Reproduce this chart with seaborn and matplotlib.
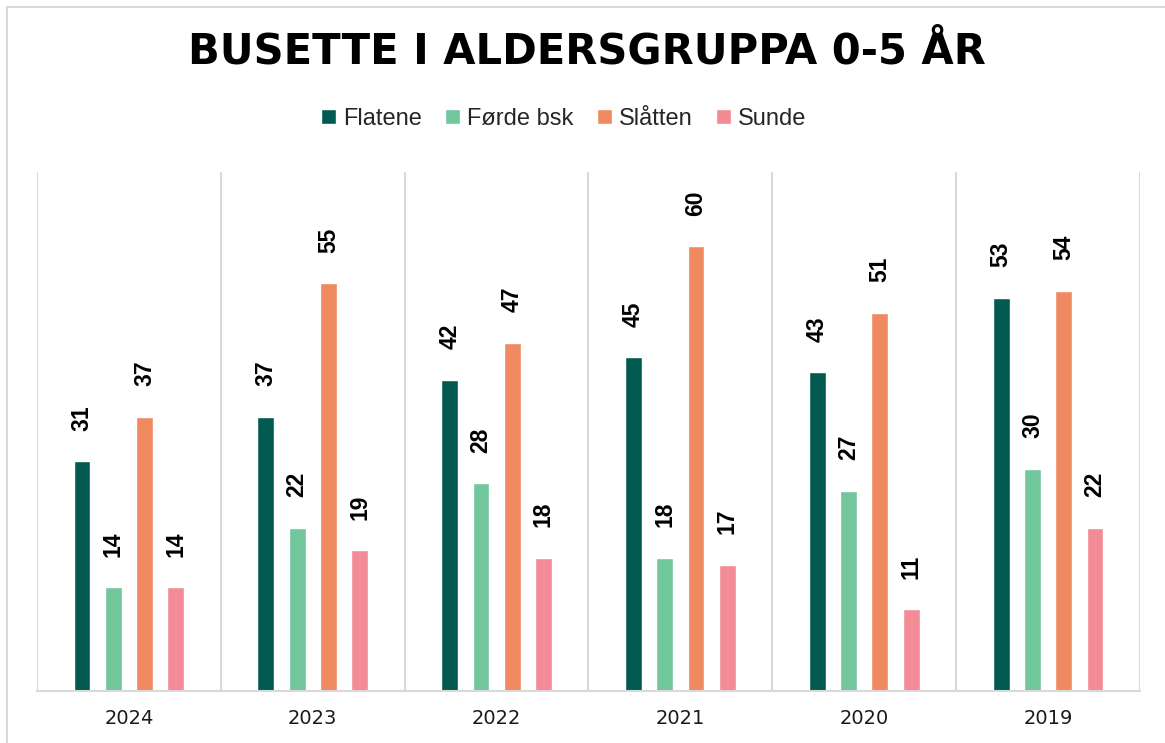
import matplotlib
matplotlib.use("Agg")
import matplotlib.pyplot as plt
import matplotlib.patches as mpatches
import seaborn as sns
import pandas as pd

years = ["2024", "2023", "2022", "2021", "2020", "2019"]
groups = ["Flatene", "Førde bsk", "Slåtten", "Sunde"]
flatene = [31, 37, 42, 45, 43, 53]
forde = [14, 22, 28, 18, 27, 30]
slatten = [37, 55, 47, 60, 51, 54]
sunde = [14, 19, 18, 17, 11, 22]
colors = ["#035A50", "#71C69B", "#F08B61", "#F28B95"]

series = [flatene, forde, slatten, sunde]
rows = []
for g, vals in zip(groups, series):
    for y, v in zip(years, vals):
        rows.append({"year": y, "group": g, "value": v})
df = pd.DataFrame(rows)

sns.set_theme(style="white")
plt.rcParams["font.family"] = ["Liberation Sans", "DejaVu Sans"]

fig = plt.figure(figsize=(11.65, 7.43), dpi=100)
ax = fig.add_axes([37 / 1165, 1 - 691 / 743, (1140 - 37) / 1165, (691 - 172) / 743])

sns.barplot(data=df, x="year", y="value", hue="group", order=years,
            hue_order=groups, palette=colors, width=0.68, gap=0.46,
            saturation=1, ax=ax, legend=True)

for cont in ax.containers:
    ax.bar_label(cont, rotation=90, padding=22, fontsize=16.5,
                 fontweight="bold", color="black")

ax.set_ylim(0, 70)
ax.set_xlim(-0.5, 5.5)
ax.set_yticks([])
ax.set_xlabel("")
ax.set_ylabel("")
for b in [i - 0.5 for i in range(7)]:
    ax.axvline(b, color="#D9D9D9", lw=1.5, zorder=0)
for s in ["top", "left", "right"]:
    ax.spines[s].set_visible(False)
ax.spines["bottom"].set_color("#D9D9D9")
ax.spines["bottom"].set_linewidth(1.5)
ax.tick_params(axis="x", length=0, pad=13, labelsize=14, labelcolor="#1a1a1a")
for lbl in ax.get_xticklabels():
    lbl.set_fontfamily("DejaVu Sans")

sns.move_legend(ax, "center", bbox_to_anchor=(563.5 / 1165, 1 - 119 / 743),
                bbox_transform=fig.transFigure, ncol=4, frameon=False,
                fontsize=17, title=None, handlelength=0.62, handleheight=0.62,
                handletextpad=0.3, columnspacing=1.0)

fig.text(587 / 1165, 1 - 52 / 743, "BUSETTE I ALDERSGRUPPA 0-5 ÅR", ha="center",
         va="center", fontsize=30, fontweight="bold", color="black",
         family="DejaVu Sans")

border = mpatches.Rectangle((7 / 1165, -0.05), 1.1, 1 - 7 / 743 + 0.05,
                            transform=fig.transFigure, fill=False,
                            edgecolor="#D9D9D9", lw=1.5)
fig.patches.append(border)

fig.savefig("out.png", dpi=100)
